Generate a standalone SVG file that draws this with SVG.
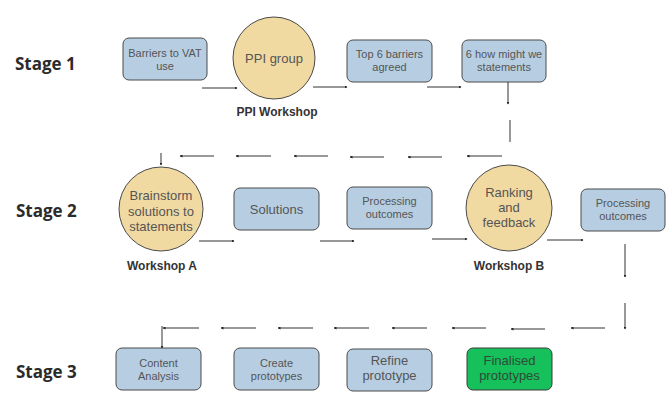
<svg xmlns="http://www.w3.org/2000/svg" width="672" height="418" viewBox="0 0 672 418">
  <style>
    .stage { font-family: "Open Sans", "Noto Sans", sans-serif; font-weight: 700; font-size: 17px; fill: #2b2b2b; }
    .box { fill: #b7cee2; stroke: #4a4a4a; stroke-width: 1; }
    .go { fill: #16c05b; stroke: #3a3a3a; stroke-width: 1; }
    .circ { fill: #f1d9a2; stroke: #4a4a4a; stroke-width: 1; }
    .t { font-family: "Liberation Sans", Arial, sans-serif; font-size: 11px; fill: #555; text-anchor: middle; }
    .tl { font-family: "Liberation Sans", Arial, sans-serif; font-size: 13px; fill: #555; text-anchor: middle; }
    .tg { font-family: "Liberation Sans", Arial, sans-serif; font-size: 13px; fill: #2f4a38; text-anchor: middle; }
    .cap { font-family: "Liberation Sans", Arial, sans-serif; font-weight: 700; font-size: 12px; fill: #333; text-anchor: middle; }
    .arr { stroke: #333; stroke-width: 1; fill: none; marker-end: url(#head); }
    .ln { stroke: #333; stroke-width: 1; fill: none; }
  </style>
  <defs>
    <marker id="head" viewBox="0 0 6 6" refX="5" refY="3" markerWidth="3" markerHeight="3" orient="auto">
      <path d="M0,0 L6,3 L0,6 z" fill="#222"/>
    </marker>
  </defs>

  <rect width="672" height="418" fill="#ffffff"/>

  <text class="stage" x="15" y="70">Stage 1</text>
  <text class="stage" x="16" y="217">Stage 2</text>
  <text class="stage" x="16" y="378">Stage 3</text>

  <!-- Stage 1 -->
  <g id="barriers">
    <rect class="box" x="123" y="38" width="84" height="42" rx="6"/>
    <text class="t" x="165" y="57">Barriers to VAT</text>
    <text class="t" x="165" y="70">use</text>
  </g>
  <g id="ppi-group">
    <circle class="circ" cx="274" cy="58" r="41"/>
    <text class="tl" x="274" y="63">PPI group</text>
    <text class="cap" x="277" y="116">PPI Workshop</text>
  </g>
  <g id="top6">
    <rect class="box" x="347" y="40" width="85" height="42" rx="6"/>
    <text class="t" x="389.5" y="58">Top 6 barriers</text>
    <text class="t" x="389.5" y="71">agreed</text>
  </g>
  <g id="hmw">
    <rect class="box" x="462" y="40" width="84" height="42" rx="6"/>
    <text class="t" x="504" y="58">6 how might we</text>
    <text class="t" x="504" y="71">statements</text>
  </g>

  <!-- Stage 2 -->
  <g id="workshop-a">
    <circle class="circ" cx="161" cy="209" r="42"/>
    <text class="tl" x="161" y="200">Brainstorm</text>
    <text class="tl" x="161" y="215.5">solutions to</text>
    <text class="tl" x="161" y="231">statements</text>
    <text class="cap" x="162" y="270">Workshop A</text>
  </g>
  <g id="solutions">
    <rect class="box" x="234" y="188" width="85" height="42" rx="6"/>
    <text class="tl" x="276.5" y="214">Solutions</text>
  </g>
  <g id="processing-1">
    <rect class="box" x="347" y="187" width="85" height="42" rx="6"/>
    <text class="t" x="389.5" y="205">Processing</text>
    <text class="t" x="389.5" y="218">outcomes</text>
  </g>
  <g id="workshop-b">
    <circle class="circ" cx="509" cy="208" r="43"/>
    <text class="tl" x="509" y="197">Ranking</text>
    <text class="tl" x="509" y="212">and</text>
    <text class="tl" x="509" y="227">feedback</text>
    <text class="cap" x="509" y="270">Workshop B</text>
  </g>
  <g id="processing-2">
    <rect class="box" x="581" y="189" width="84" height="42" rx="6"/>
    <text class="t" x="623" y="207">Processing</text>
    <text class="t" x="623" y="220">outcomes</text>
  </g>

  <!-- Stage 3 -->
  <g id="content-analysis">
    <rect class="box" x="116" y="348" width="85" height="42" rx="6"/>
    <text class="t" x="158.5" y="366.5">Content</text>
    <text class="t" x="158.5" y="379.5">Analysis</text>
  </g>
  <g id="create-prototypes">
    <rect class="box" x="234" y="348" width="85" height="42" rx="6"/>
    <text class="t" x="276.5" y="366.5">Create</text>
    <text class="t" x="276.5" y="379.5">prototypes</text>
  </g>
  <g id="refine-prototype">
    <rect class="box" x="347" y="349" width="85" height="42" rx="6"/>
    <text class="tl" x="389.5" y="365">Refine</text>
    <text class="tl" x="389.5" y="380">prototype</text>
  </g>
  <g id="finalised-prototypes">
    <rect class="go" x="467" y="348" width="85" height="42" rx="6"/>
    <text class="tg" x="509.5" y="365">Finalised</text>
    <text class="tg" x="509.5" y="380">prototypes</text>
  </g>

  <g id="connectors">
    <!-- stage 1 flow -->
    <line class="arr" x1="202" y1="88" x2="237" y2="88"/>
    <line class="arr" x1="313" y1="87" x2="347" y2="87"/>
    <line class="arr" x1="427" y1="87" x2="461" y2="87"/>
    <line class="arr" x1="508" y1="82" x2="508" y2="104"/>
    <line class="ln" x1="510" y1="120" x2="510" y2="142"/>
    <!-- return row to stage 2 -->
    <line class="arr" x1="502" y1="156" x2="467" y2="156"/>
    <line class="arr" x1="442" y1="157" x2="408" y2="157"/>
    <line class="arr" x1="384" y1="157" x2="350" y2="157"/>
    <line class="arr" x1="328" y1="156" x2="294" y2="156"/>
    <line class="arr" x1="271" y1="156" x2="236" y2="156"/>
    <line class="arr" x1="214" y1="156" x2="180" y2="156"/>
    <line class="arr" x1="161" y1="153" x2="161" y2="165"/>
    <!-- stage 2 flow -->
    <line class="arr" x1="199" y1="241" x2="234" y2="241"/>
    <line class="arr" x1="320" y1="241" x2="354" y2="241"/>
    <line class="arr" x1="432" y1="239" x2="467" y2="239"/>
    <line class="arr" x1="547" y1="240" x2="583" y2="240"/>
    <line class="arr" x1="625" y1="244" x2="625" y2="277"/>
    <line class="arr" x1="625" y1="303" x2="625" y2="329"/>
    <!-- return row to stage 3 -->
    <line class="arr" x1="605" y1="328" x2="571" y2="328"/>
    <line class="arr" x1="545" y1="329" x2="511" y2="329"/>
    <line class="arr" x1="486" y1="328" x2="452" y2="328"/>
    <line class="arr" x1="427" y1="328" x2="392" y2="328"/>
    <line class="arr" x1="369" y1="328" x2="334" y2="328"/>
    <line class="arr" x1="313" y1="328" x2="278" y2="328"/>
    <line class="arr" x1="256" y1="328" x2="221" y2="328"/>
    <line class="arr" x1="199" y1="328" x2="163" y2="328"/>
    <line class="arr" x1="162" y1="326" x2="162" y2="348"/>
  </g>
</svg>
